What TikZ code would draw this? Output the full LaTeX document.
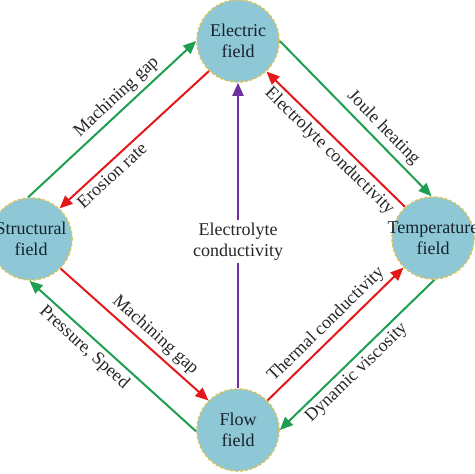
\documentclass[tikz,border=0pt]{standalone}
\usepackage{fontspec}
\setmainfont{Liberation Serif}
\usetikzlibrary{arrows.meta}
\definecolor{fieldblue}{RGB}{142,199,214}
\definecolor{rimgold}{RGB}{214,196,96}
\definecolor{cgreen}{RGB}{30,158,80}
\definecolor{cred}{RGB}{228,24,24}
\definecolor{cpurple}{RGB}{112,48,160}
\definecolor{inktext}{RGB}{22,34,44}

\begin{document}
\begin{tikzpicture}[x=0.5pt, y=-0.5pt,
  field/.style={circle, fill=fieldblue, draw=rimgold, line width=0.8pt, dash pattern=on 1.5pt off 1pt,
    minimum size=41pt, inner sep=0pt,
    label={[align=center, font=\fontsize{9}{10.5}\selectfont, text=inktext]center:#1}},
  link/.style={line width=1pt, -{Triangle[length=6.5pt,width=5.5pt]}},
  lbl/.style={sloped, font=\fontsize{9}{10.5}\selectfont, inner sep=2pt, text=black!85}]
\useasboundingbox (0,0) rectangle (474,474);

%the fields
\node [field={Electric\\field}] (E) at (238,41) {};
\node [field={Structural\\field}] (S) at (31,239) {};
\node [field={Temperature\\field}] (T) at (433,238) {};
\node [field={Flow\\field}] (F) at (238,430) {};

%upper left
\draw [link, cgreen] (S.94) -- (E.180) node [lbl, pos=0.58, above] {Machining gap};
\draw [link, cred] (E.226) -- (S.47) node [lbl, pos=0.7, below] {Erosion rate};

%upper right
\draw [link, cgreen] (E.0) -- (T.92) node [lbl, pos=0.62, above] {Joule heating};
\draw [link, cred] (T.132) -- (E.313) node [lbl, pos=0.48, below] {Electrolyte conductivity};

%lower left
\draw [link, cred] (S.315) -- (F.135) node [lbl, pos=0.58, above] {Machining gap};
\draw [link, cgreen] (F.182) -- (S.268) node [lbl, pos=0.62, below] {Pressure, Speed};

%lower right
\draw [link, cred] (F.45) -- (T.225) node [lbl, pos=0.5, above] {Thermal conductivity};
\draw [link, cgreen] (T.272) -- (F.0) node [lbl, pos=0.56, below] {Dynamic viscosity};

%the middle
\draw [link, cpurple] (F.90) -- (E.270) node [pos=0.48, fill=white, align=center, inner sep=1.5pt,
  font=\fontsize{9}{10.5}\selectfont, text=black!85] (cond) {Electrolyte\\conductivity};
\end{tikzpicture}
\end{document}
